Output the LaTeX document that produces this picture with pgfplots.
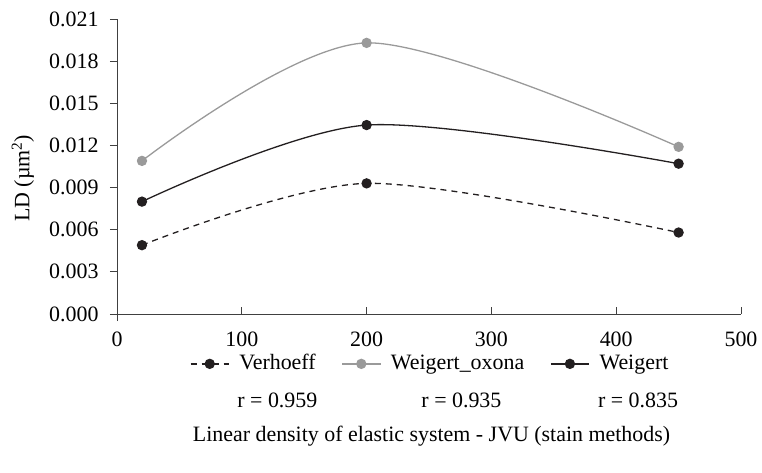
\documentclass[border=0pt]{standalone}
\usepackage{pgfplots}
\pgfplotsset{compat=1.18}
\usepackage{fontspec}
\setmainfont{Liberation Serif}
\definecolor{blk}{HTML}{231F20}
\definecolor{gry}{HTML}{9A9A9A}
\begin{document}
\fontsize{22}{26}\selectfont
\begin{tikzpicture}
\path[use as bounding box] (-117bp,-159bp) rectangle (645bp,314bp);
\begin{axis}[
  scale only axis, width=624bp, height=295bp,
  xmin=0, xmax=500, ymin=0, ymax=0.021,
  xtick={0,100,...,500},
  ytick={0,0.003,0.006,0.009,0.012,0.015,0.018,0.021},
  extra x ticks={0}, extra x tick labels={},
  extra x tick style={xtick align=outside},
  axis x line*=bottom, axis y line*=left,
  axis line style={black!75, line width=0.9bp},
  tick style={black!75, line width=0.9bp},
  major tick length=7bp,
  xtick align=inside, ytick align=outside,
  /pgf/number format/assume math mode=true,
  yticklabel style={/pgf/number format/fixed, /pgf/number format/fixed zerofill, /pgf/number format/precision=3, font=\fontsize{22}{26}\selectfont, xshift=-4bp},
  xticklabel style={font=\fontsize{22}{26}\selectfont, yshift=-10bp},
  scaled y ticks=false,
  ylabel={LD (µm\textsuperscript{2})},
  ylabel style={at={(axis description cs:-0.151,0.46)}, anchor=center, font=\fontsize{22}{26}\selectfont},
  xlabel={Linear density of elastic system - JVU (stain methods)},
  xlabel style={at={(axis description cs:0.504,-0.414)}, anchor=center, font=\fontsize{22}{26}\selectfont},
  legend columns=3,
  legend style={at={(axis description cs:0.502,-0.169)}, anchor=center, draw=none, fill=none,
    font=\fontsize{22}{26}\selectfont,
    /tikz/every odd column/.append style={column sep=8bp},
    /tikz/every even column/.append style={column sep=24bp}},
  legend image code/.code={\draw[mark repeat=2,mark phase=2,#1] plot coordinates {(0bp,0bp) (19bp,0bp) (38bp,0bp)};},
  every axis plot/.append style={line width=1.3bp, mark=*, mark size=4.5bp, smooth},
  clip=false,
]
\addplot[blk, dash pattern=on 6bp off 5bp, mark options={solid, fill=blk}] coordinates {(20,0.0049) (200,0.0093) (450,0.0058)};
\addlegendentry{Verhoeff}
\addplot[gry, mark options={fill=gry}] coordinates {(20,0.0109) (200,0.0193) (450,0.0119)};
\addlegendentry{Weigert\_oxona}
\addplot[blk, mark options={fill=blk}] coordinates {(20,0.0080) (200,0.01345) (450,0.01070)};
\addlegendentry{Weigert}
\node[anchor=center] at (axis description cs:0.257,-0.292) {r = 0.959};
\node[anchor=center] at (axis description cs:0.552,-0.292) {r = 0.935};
\node[anchor=center] at (axis description cs:0.835,-0.292) {r = 0.835};
\end{axis}
\end{tikzpicture}
\end{document}
